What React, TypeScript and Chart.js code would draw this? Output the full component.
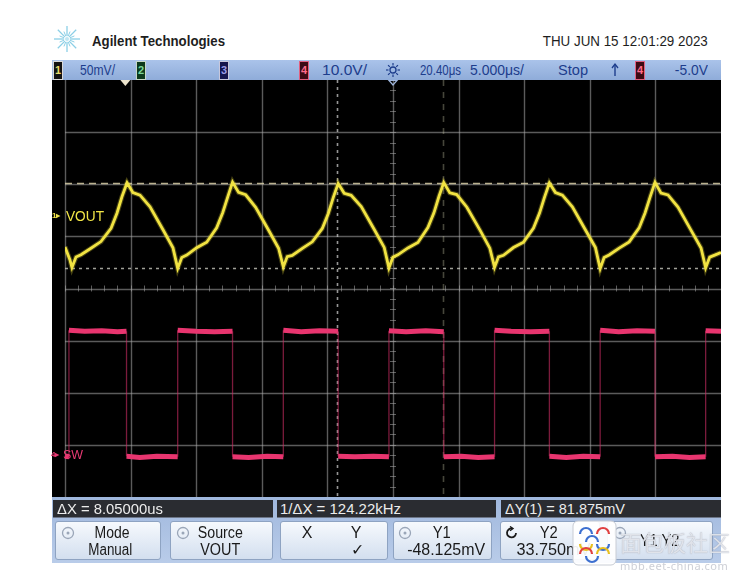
import React, { useEffect, useRef } from "react";
import { Chart, registerables } from "chart.js";

Chart.register(...registerables);

// ---------- DATA ----------
// Channel 1 (VOUT), time in µs, value in mV (50 mV/div)
const voutTimeUs = [
  -25.0, -24.62, -24.47, -24.16, -23.78, -23.02, -22.26, -21.49, -21.04, -20.66, -20.27,
  -19.82, -19.28, -18.52, -17.53, -16.77, -16.41,
  -16.1, -15.72, -14.96, -14.2, -13.44, -12.98, -12.6, -12.23,
  -11.77, -11.23, -10.47, -9.48, -8.72, -8.36,
  -8.06, -7.68, -6.91, -6.15, -5.39, -4.93, -4.55, -4.18,
  -3.72, -3.19, -2.42, -1.43, -0.67, -0.31,
  -0.01, 0.37, 1.14, 1.9, 2.66, 3.12, 3.5, 3.87,
  4.33, 4.86, 5.63, 6.62, 7.38, 7.74,
  8.04, 8.42, 9.18, 9.95, 10.71, 11.17, 11.55, 11.92,
  12.38, 12.91, 13.67, 14.66, 15.43, 15.79,
  16.09, 16.47, 17.24, 18.0, 18.76, 19.21, 19.6, 19.97,
  20.43, 20.96, 21.72, 22.71, 23.48, 23.83,
  24.14, 24.52, 25.0,
];
const voutMilliVolts = [
  -27.8, -40.3, -47.5, -37.4, -35.2, -29.0, -22.6, -9.9, 4.6, 20.4, 33.8,
  24.3, 22.0, 10.8, -11.2, -28.6, -48.3,
  -37.8, -35.6, -28.5, -23.2, -9.4, 5.1, 20.0, 34.5,
  24.6, 22.3, 10.2, -11.7, -29.0, -46.9,
  -37.0, -35.9, -29.1, -22.8, -10.0, 4.4, 19.8, 33.2,
  23.7, 21.8, 10.9, -11.0, -28.2, -48.0,
  -37.6, -35.3, -28.7, -23.4, -9.2, 5.0, 20.6, 34.0,
  24.1, 22.5, 10.4, -11.4, -28.9, -47.2,
  -37.2, -35.7, -28.3, -23.1, -9.7, 4.7, 20.1, 33.6,
  24.4, 21.9, 10.7, -11.3, -28.4, -48.6,
  -37.9, -35.4, -28.9, -22.9, -9.5, 4.9, 20.3, 34.2,
  23.9, 22.2, 10.5, -11.6, -28.7, -47.8,
  -37.5, -35.6, -33.0,
];

// Channel 4 (SW), time in µs, value in V (10 V/div)
const swTimeUs = [
  -25.0, -24.7,
  -24.7, -23.5, -22.2, -21.0, -20.31,
  -20.31, -19.3, -18.0, -16.41,
  -16.41, -15.0, -13.6, -12.23,
  -12.23, -11.0, -9.6, -8.36,
  -8.36, -7.0, -5.6, -4.18,
  -4.18, -2.9, -1.5, -0.31,
  -0.31, 1.0, 2.5, 3.87,
  3.87, 5.2, 6.5, 7.74,
  7.74, 9.0, 10.5, 11.92,
  11.92, 13.2, 14.5, 15.79,
  15.79, 17.2, 18.6, 19.97,
  19.97, 21.3, 22.6, 23.83,
  23.83, 25.0,
];
const swVolts = [
  0.1, 0.0,
  24.3, 24.1, 24.2, 24.0, 24.1,
  0.1, -0.1, 0.1, 0.0,
  24.3, 24.1, 24.0, 24.1,
  0.0, -0.1, 0.1, 0.0,
  24.3, 24.0, 24.2, 24.1,
  0.1, 0.0, 0.1, 0.0,
  24.2, 24.0, 24.2, 24.0,
  0.0, 0.1, -0.1, 0.0,
  24.3, 24.1, 24.0, 24.1,
  0.1, -0.1, 0.1, 0.0,
  24.3, 24.0, 24.2, 24.1,
  0.0, 0.1, -0.1, 0.0,
  24.2, 24.1,
];

// Screen graticule: 10 horizontal divisions of 5 µs, 8 vertical divisions
const gridTimeTicksUs = [-25, -20, -15, -10, -5, 0, 5, 10, 15, 20, 25];
const gridDivisions = [-4, -3, -2, -1, 0, 1, 2, 3, 4];

// Cursors & markers
const cursorY1mV = -48.125;
const cursorY2mV = 33.75;
const cursorX1us = -4.27;
const cursorX2us = 3.78;
const triggerTimeUs = -20.4;

// Axis ranges (channel offsets)
const voutRangeMv = [-267.6, 132.4];
const swRangeV = [-7.7, 72.3];
const timeRangeUs = [-25, 25];
const divRange = [-4, 4];

// Texts
const headerBrand = "Agilent Technologies";
const headerDate = "THU JUN 15 12:01:29 2023";
const measureTexts = ["ΔX = 8.05000us", "1/ΔX = 124.22kHz", "ΔY(1) = 81.875mV"];

const FAMILY = '"Liberation Sans", Arial, sans-serif';

let measureCtx: CanvasRenderingContext2D | null = null;
function measureText(text: string, size: number, weight: number) {
  if (!measureCtx) measureCtx = document.createElement("canvas").getContext("2d");
  if (!measureCtx) return text.length * size * 0.55;
  measureCtx.font = `${weight} ${size}px ${FAMILY}`;
  return measureCtx.measureText(text).width;
}

const scopePlugin = {
  id: "scope",
  beforeDraw(chart: any) {
    const { ctx, width, height } = chart;
    ctx.save();
    ctx.fillStyle = "#000";
    ctx.fillRect(0, 0, width, height);
    ctx.restore();
  },
  beforeDatasetsDraw(chart: any) {
    const { ctx, chartArea: ca } = chart;
    const xs = chart.scales.x;
    const yd = chart.scales.yd;
    const yv = chart.scales.yv;
    ctx.save();
    ctx.strokeStyle = "rgba(165,165,165,0.55)";
    ctx.lineWidth = 1.4;
    gridTimeTicksUs.forEach((t) => {
      if (t === timeRangeUs[1]) return;
      const x = Math.round(xs.getPixelForValue(t)) + 0.5;
      ctx.beginPath();
      ctx.moveTo(x, ca.top);
      ctx.lineTo(x, ca.bottom);
      ctx.stroke();
    });
    gridDivisions.forEach((d) => {
      if (d === divRange[0] || d === divRange[1]) return;
      const y = Math.round(yd.getPixelForValue(d)) + 0.5;
      ctx.beginPath();
      ctx.moveTo(ca.left, y);
      ctx.lineTo(ca.right, y);
      ctx.stroke();
    });
    // minor ticks on centre lines
    ctx.lineWidth = 1;
    const yc = yd.getPixelForValue(0);
    const xc = xs.getPixelForValue(0);
    for (let t = timeRangeUs[0]; t <= timeRangeUs[1]; t += 1) {
      const x = Math.round(xs.getPixelForValue(t)) + 0.5;
      ctx.beginPath();
      ctx.moveTo(x, yc - 3);
      ctx.lineTo(x, yc + 3);
      ctx.stroke();
    }
    for (let d = divRange[0]; d <= divRange[1]; d += 0.2) {
      const y = Math.round(yd.getPixelForValue(d)) + 0.5;
      ctx.beginPath();
      ctx.moveTo(xc - 3, y);
      ctx.lineTo(xc + 3, y);
      ctx.stroke();
    }
    // cursors
    const hLine = (y: number, dash: number[], color: string) => {
      ctx.setLineDash(dash);
      ctx.strokeStyle = color;
      ctx.lineWidth = 1.6;
      ctx.beginPath();
      ctx.moveTo(ca.left, Math.round(y) + 0.5);
      ctx.lineTo(ca.right, Math.round(y) + 0.5);
      ctx.stroke();
    };
    const vLine = (x: number, dash: number[], color: string) => {
      ctx.setLineDash(dash);
      ctx.strokeStyle = color;
      ctx.lineWidth = 1.6;
      ctx.beginPath();
      ctx.moveTo(Math.round(x) + 0.5, ca.top);
      ctx.lineTo(Math.round(x) + 0.5, ca.bottom);
      ctx.stroke();
    };
    hLine(yv.getPixelForValue(cursorY2mV), [7, 5], "rgba(215,205,165,0.85)");
    hLine(yv.getPixelForValue(cursorY1mV), [3, 4], "rgba(200,200,190,0.8)");
    vLine(xs.getPixelForValue(cursorX1us), [3, 4], "rgba(200,200,200,0.75)");
    vLine(xs.getPixelForValue(cursorX2us), [6, 6], "rgba(200,200,170,0.35)");
    ctx.setLineDash([]);
    // trigger marker & time reference marker
    const xt = xs.getPixelForValue(triggerTimeUs);
    ctx.fillStyle = "#ece4cc";
    ctx.beginPath();
    ctx.moveTo(xt - 5, 0);
    ctx.lineTo(xt + 5, 0);
    ctx.lineTo(xt, 6);
    ctx.closePath();
    ctx.fill();
    ctx.strokeStyle = "#9fb6dc";
    ctx.lineWidth = 1.2;
    ctx.beginPath();
    ctx.moveTo(xc - 4, 0.5);
    ctx.lineTo(xc + 4, 0.5);
    ctx.lineTo(xc, 5);
    ctx.closePath();
    ctx.stroke();
    ctx.restore();
  },
};

function ScopeCanvas() {
  const ref = useRef<HTMLCanvasElement | null>(null);
  useEffect(() => {
    if (!ref.current) return;
    const vout = voutTimeUs.map((t, i) => ({ x: t, y: voutMilliVolts[i] }));
    const sw = swTimeUs.map((t, i) => ({ x: t, y: swVolts[i] }));
    const chart = new Chart(ref.current, {
      type: "line",
      data: {
        datasets: [
          {
            label: "VOUT glow",
            data: vout,
            xAxisID: "x",
            yAxisID: "yv",
            borderColor: "rgba(240,228,60,0.28)",
            borderWidth: 5,
            pointRadius: 0,
            tension: 0,
          },
          {
            label: "VOUT",
            data: vout,
            xAxisID: "x",
            yAxisID: "yv",
            borderColor: "#f2e444",
            borderWidth: 2.8,
            pointRadius: 0,
            tension: 0,
          },
          {
            label: "SW",
            data: sw,
            xAxisID: "x",
            yAxisID: "ys",
            borderColor: "#e8356f",
            borderWidth: 5,
            pointRadius: 0,
            tension: 0,
            segment: {
              borderWidth: (c: any) => (Math.abs(c.p0.x - c.p1.x) < 0.5 ? 1.3 : 5),
              borderColor: (c: any) =>
                Math.abs(c.p0.x - c.p1.x) < 0.5 ? "rgba(205,45,100,0.6)" : "#e8356f",
            },
          },
        ],
      },
      options: {
        responsive: false,
        animation: false,
        events: [],
        layout: { padding: { left: 13, right: 0, top: 0, bottom: 0 } },
        plugins: { legend: { display: false }, tooltip: { enabled: false } },
        scales: {
          x: { type: "linear", min: timeRangeUs[0], max: timeRangeUs[1], display: false },
          yv: { type: "linear", min: voutRangeMv[0], max: voutRangeMv[1], display: false },
          ys: { type: "linear", min: swRangeV[0], max: swRangeV[1], display: false },
          yd: { type: "linear", min: divRange[0], max: divRange[1], display: false },
        },
      } as any,
      plugins: [scopePlugin],
    });
    return () => chart.destroy();
  }, []);
  return (
    <canvas
      ref={ref}
      width={669}
      height={417}
      style={{ position: "absolute", left: 52, top: 80, width: 669, height: 417, display: "block" }}
    />
  );
}

// Absolutely positioned text; `w` = width to fit (horizontal condensing)
function Txt(props: any) {
  const { x, y, size = 15, color = "#1a1a1a", weight = 400, align = "left", w, children, extra, family } = props;
  const text = String(children);
  let sx = 1;
  if (w && !family) sx = w / measureText(text, size, weight);
  const style: any = {
    position: "absolute",
    top: y - size * 0.6,
    fontSize: size,
    lineHeight: `${size * 1.2}px`,
    color,
    fontWeight: weight,
    whiteSpace: "nowrap",
    fontFamily: family || FAMILY,
  };
  let origin = "left";
  if (align === "left") style.left = x;
  else if (align === "right") {
    style.right = 753 - x;
    style.textAlign = "right";
    origin = "right";
  } else {
    style.left = x - 100;
    style.width = 200;
    style.textAlign = "center";
    origin = "center";
  }
  return (
    <div style={style}>
      <span
        style={{
          display: "inline-block",
          transform: `scaleX(${sx})`,
          transformOrigin: origin,
          ...(extra || {}),
        }}
      >
        {text}
      </span>
    </div>
  );
}

function ChBox({ x, label, bg, fg, border }: any) {
  return (
    <div
      style={{
        position: "absolute",
        left: x,
        top: 61,
        width: 8,
        height: 17,
        background: bg,
        border: `1px solid ${border}`,
        color: fg,
        fontSize: 11,
        fontWeight: 700,
        lineHeight: "17px",
        textAlign: "center",
        fontFamily: FAMILY,
      }}
    >
      {label}
    </div>
  );
}

function Button({ x1, x2 }: any) {
  return (
    <div
      style={{
        position: "absolute",
        left: x1,
        top: 521,
        width: x2 - x1,
        height: 39,
        background: "linear-gradient(#f6f9fd, #d3dfef)",
        border: "1px solid #8ea3c2",
        borderRadius: 3,
        boxSizing: "border-box",
      }}
    />
  );
}

function Knob({ x, y }: any) {
  return (
    <svg style={{ position: "absolute", left: x, top: y }} width="14" height="14" viewBox="0 0 14 14">
      <circle cx="7" cy="7" r="5.5" fill="none" stroke="#9aa6b8" strokeWidth="1.3" />
      <circle cx="7" cy="7" r="1.5" fill="#9aa6b8" />
    </svg>
  );
}

export default function App() {
  const rays = [0, 45, 90, 135, 180, 225, 270, 315, 22.5, 67.5, 112.5, 157.5, 202.5, 247.5, 292.5, 337.5];
  const blue = "#1d3d8c";
  return (
    <div
      style={{
        position: "fixed",
        left: 0,
        top: 0,
        width: 753,
        height: 579,
        background: "#fff",
        overflow: "hidden",
        fontFamily: FAMILY,
      }}
    >
      {/* header */}
      <svg style={{ position: "absolute", left: 53, top: 25 }} width="28" height="28" viewBox="0 0 28 28">
        {rays.map((a, i) => {
          const r = i < 8 ? 13 : 8;
          const rad = (a * Math.PI) / 180;
          return (
            <line
              key={i}
              x1={14 + Math.cos(rad) * 3}
              y1={14 + Math.sin(rad) * 3}
              x2={14 + Math.cos(rad) * r}
              y2={14 + Math.sin(rad) * r}
              stroke="#8ccfe6"
              strokeWidth={i < 8 ? 1.3 : 1}
            />
          );
        })}
        <circle cx="14" cy="14" r="2" fill="#bfe6f2" />
      </svg>
      <Txt x={92} y={41} size={14} weight={700} w={133} color="#1e1e1e">
        {headerBrand}
      </Txt>
      <Txt x={708} y={41} size={14} align="right" w={165} color="#1e1e1e">
        {headerDate}
      </Txt>

      {/* status bar */}
      <div
        style={{
          position: "absolute",
          left: 52,
          top: 60,
          width: 669,
          height: 20,
          background: "linear-gradient(#aac3ea, #8facd9)",
        }}
      />
      <ChBox x={53} label="1" bg="#121212" fg="#e6dc6a" border="#d8d8d8" />
      <Txt x={80} y={70} size={15} w={35} color={blue}>50mV/</Txt>
      <ChBox x={136} label="2" bg="#0c3a1c" fg="#7bd79a" border="#c8d8c8" />
      <ChBox x={219} label="3" bg="#15164e" fg="#9a9ce6" border="#c8c8dc" />
      <ChBox x={299} label="4" bg="#3c0a14" fg="#ff6a8a" border="#e06080" />
      <Txt x={322} y={70} size={15} w={45} color={blue}>10.0V/</Txt>
      <svg style={{ position: "absolute", left: 385, top: 62 }} width="16" height="16" viewBox="0 0 16 16">
        <circle cx="8" cy="8" r="3" fill="none" stroke={blue} strokeWidth="1.3" />
        {[0, 45, 90, 135, 180, 225, 270, 315].map((a, i) => {
          const rad = (a * Math.PI) / 180;
          return (
            <line
              key={i}
              x1={8 + Math.cos(rad) * 4.5}
              y1={8 + Math.sin(rad) * 4.5}
              x2={8 + Math.cos(rad) * 7}
              y2={8 + Math.sin(rad) * 7}
              stroke={blue}
              strokeWidth="1.2"
            />
          );
        })}
      </svg>
      <Txt x={420} y={70} size={15} w={41} color={blue}>20.40μs</Txt>
      <Txt x={470} y={70} size={15} w={54} color={blue}>5.000μs/</Txt>
      <Txt x={558} y={70} size={15} w={30} color={blue}>Stop</Txt>
      <svg style={{ position: "absolute", left: 610, top: 62 }} width="10" height="16" viewBox="0 0 10 16">
        <line x1="5" y1="2" x2="5" y2="14" stroke={blue} strokeWidth="1.4" />
        <polyline points="2,6 5,2 8,6" fill="none" stroke={blue} strokeWidth="1.3" />
      </svg>
      <ChBox x={635} label="4" bg="#3c0a14" fg="#ff6a8a" border="#e06080" />
      <Txt x={708} y={70} size={15} w={33} align="right" color={blue}>-5.0V</Txt>

      {/* scope screen */}
      <ScopeCanvas />
      <Txt x={52} y={216} size={8} color="#efe34a" weight={700}>1▸</Txt>
      <Txt x={66} y={216} size={14} w={38} color="#f2e647">VOUT</Txt>
      <Txt x={51} y={455} size={8} color="#ea3a74" weight={700}>4▸</Txt>
      <Txt x={63} y={455} size={13} w={20} color="#ea3a74">SW</Txt>

      {/* bottom panel */}
      <div
        style={{
          position: "absolute",
          left: 52,
          top: 497,
          width: 669,
          height: 66,
          background: "linear-gradient(#9fb7dd, #b9cce9)",
        }}
      />
      {[
        [53, 273],
        [277, 496],
        [501, 721],
      ].map(([a, b], i) => (
        <div
          key={i}
          style={{
            position: "absolute",
            left: a,
            top: 500,
            width: b - a,
            height: 17,
            background: "#2a2c31",
            borderBottom: "1px solid #6d7687",
          }}
        />
      ))}
      <Txt x={57} y={509} size={14} w={106} color="#ececec">{measureTexts[0]}</Txt>
      <Txt x={280} y={509} size={14} w={121} color="#ececec">{measureTexts[1]}</Txt>
      <Txt x={505} y={509} size={14} w={120} color="#ececec">{measureTexts[2]}</Txt>

      <Button x1={55} x2={161} />
      <Knob x={61} y={526} />
      <Txt x={112} y={533} size={16} w={35} align="center">Mode</Txt>
      <Txt x={110} y={550} size={16} w={44} align="center">Manual</Txt>

      <Button x1={170} x2={273} />
      <Knob x={176} y={526} />
      <Txt x={220} y={533} size={16} w={45} align="center">Source</Txt>
      <Txt x={220} y={550} size={16} w={40} align="center">VOUT</Txt>

      <Button x1={280} x2={388} />
      <Txt x={307} y={533} size={16} align="center">X</Txt>
      <Txt x={356} y={533} size={16} align="center">Y</Txt>
      <Txt x={357} y={550} size={16} align="center">✓</Txt>

      <Button x1={393} x2={492} />
      <Knob x={398} y={526} />
      <Txt x={442} y={533} size={16} w={18} align="center">Y1</Txt>
      <Txt x={446} y={550} size={16} w={78} align="center">-48.125mV</Txt>

      <Button x1={500} x2={600} />
      <svg style={{ position: "absolute", left: 505, top: 526 }} width="14" height="14" viewBox="0 0 14 14">
        <path d="M11 7 A4.5 4.5 0 1 1 7 2.5" fill="none" stroke="#1a1a1a" strokeWidth="1.8" />
        <polyline points="5,0.5 8,2.5 5,4.8" fill="none" stroke="#1a1a1a" strokeWidth="1.4" />
      </svg>
      <Txt x={549} y={533} size={16} w={18} align="center">Y2</Txt>
      <Txt x={553} y={550} size={16} w={74} align="center">33.750mV</Txt>

      <Button x1={607} x2={713} />
      <Knob x={613} y={526} />
      <Txt x={660} y={541} size={16} w={40} align="center">Y1 Y2</Txt>

      {/* watermark */}
      <svg style={{ position: "absolute", left: 572, top: 520 }} width="45" height="46" viewBox="0 0 45 46">
        <rect x="1" y="1" width="43" height="44" rx="5" fill="rgba(255,255,255,0.92)" stroke="#c8ccd4" />
        <path d="M8 14 A6 6 0 0 1 20 14" fill="none" stroke="#3c6fd0" strokeWidth="2.2" />
        <path d="M25 14 A6 6 0 0 1 37 14" fill="none" stroke="#e04040" strokeWidth="2.2" />
        <path d="M8 24 A6 6 0 0 0 20 24" fill="none" stroke="#e8c020" strokeWidth="2.2" />
        <path d="M25 24 A6 6 0 0 0 37 24" fill="none" stroke="#3c6fd0" strokeWidth="2.2" />
        <path d="M14 22 A6 6 0 0 1 26 22" fill="none" stroke="#3c6fd0" strokeWidth="2.2" />
        <path d="M8 34 A6 6 0 0 1 20 34" fill="none" stroke="#e04040" strokeWidth="2.2" />
        <path d="M25 34 A6 6 0 0 1 37 34" fill="none" stroke="#e8c020" strokeWidth="2.2" />
        <path d="M14 36 A6 6 0 0 0 26 36" fill="none" stroke="#3c6fd0" strokeWidth="2.2" />
      </svg>
      <Txt
        x={620}
        y={541}
        size={22}
        color="rgba(236,238,244,0.85)"
        family='"Noto Sans CJK SC", sans-serif'
        extra={{ textShadow: "0 0 1px rgba(110,115,130,0.7)" }}
      >
        面包板社区
      </Txt>
      <Txt
        x={620}
        y={566}
        size={11}
        color="rgba(200,202,210,0.9)"
        family='"Noto Sans", sans-serif'
        extra={{ letterSpacing: 0.5 }}
      >
        mbb.eet-china.com
      </Txt>
    </div>
  );
}
